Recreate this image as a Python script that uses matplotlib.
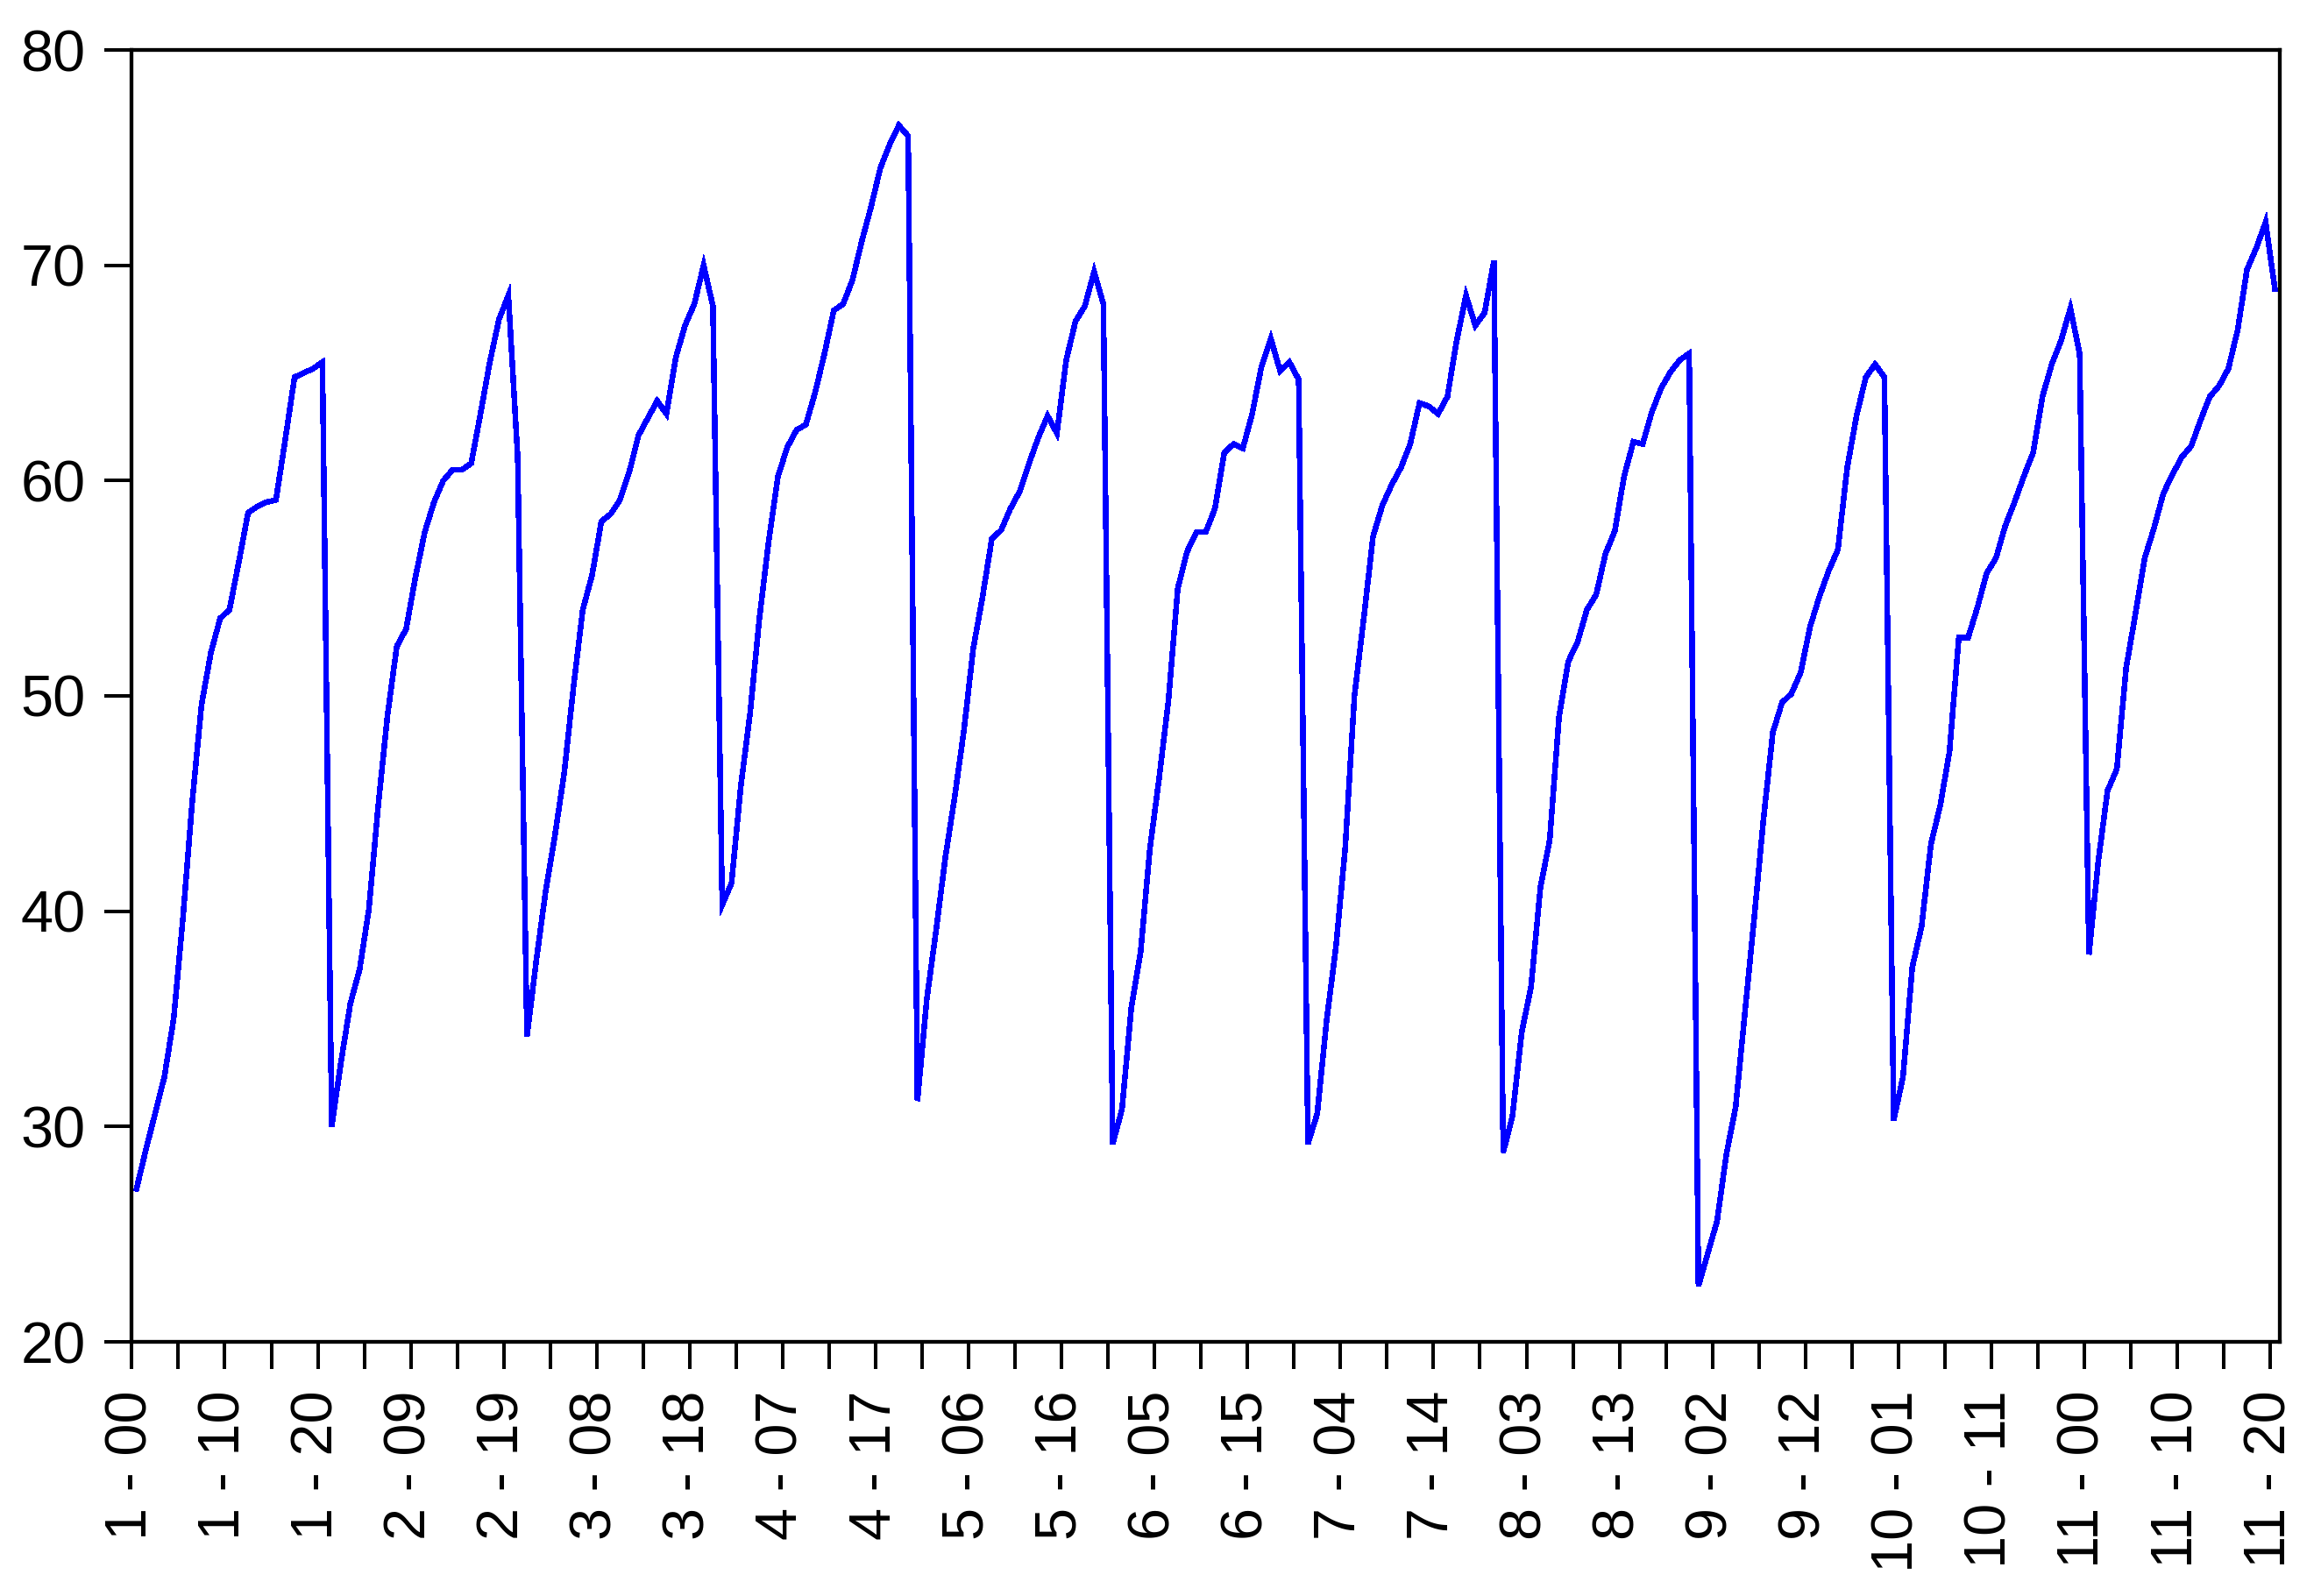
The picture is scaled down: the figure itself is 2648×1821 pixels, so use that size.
import matplotlib
matplotlib.use("Agg")
import matplotlib.pyplot as plt
import numpy as np

plt.rcParams['font.family'] = ['Liberation Sans', 'DejaVu Sans']

# 11 cycles of 21 observations each (labels "cycle - index")
c1 = [27.1, 28.9, 30.6, 32.3, 35.0, 39.7, 45.1, 49.6, 52.0, 53.6, 54.0,
      56.2, 58.5, 58.8, 59.0, 59.1, 61.9, 64.8, 65.0, 65.2, 65.5]
c2 = [30.0, 33.0, 35.7, 37.3, 40.1, 44.9, 49.1, 52.3, 53.1, 55.5, 57.6,
      59.0, 60.0, 60.5, 60.5, 60.8, 63.1, 65.5, 67.5, 68.6, 61.1]
c3 = [34.2, 37.7, 40.9, 43.5, 46.4, 50.4, 54.0, 55.6, 58.1, 58.45, 59.1,
      60.4, 62.1, 62.9, 63.7, 63.1, 65.7, 67.2, 68.2, 70.0, 68.1]
c4 = [40.3, 41.3, 45.8, 49.2, 53.6, 57.2, 60.2, 61.55, 62.35, 62.6, 64.1,
      65.9, 67.9, 68.2, 69.3, 71.1, 72.7, 74.5, 75.6, 76.5, 76.0]
c5 = [31.2, 35.9, 39.1, 42.5, 45.3, 48.4, 52.2, 54.6, 57.3, 57.7, 58.7,
      59.5, 60.8, 62.0, 63.0, 62.2, 65.6, 67.4, 68.1, 69.7, 68.2]
c6 = [29.2, 30.8, 35.5, 38.1, 42.9, 46.2, 49.8, 55.0, 56.7, 57.6, 57.6,
      58.7, 61.3, 61.7, 61.5, 63.1, 65.3, 66.6, 65.1, 65.5, 64.7]
c7 = [29.2, 30.6, 34.9, 38.3, 42.9, 50.0, 53.6, 57.4, 58.85, 59.8, 60.6,
      61.7, 63.6, 63.45, 63.1, 63.9, 66.5, 68.6, 67.2, 67.8, 70.2]
c8 = [28.8, 30.5, 34.4, 36.5, 41.1, 43.3, 49.0, 51.6, 52.5, 54.0, 54.7,
      56.6, 57.65, 60.2, 61.8, 61.7, 63.2, 64.3, 65.05, 65.6, 65.9]
c9 = [22.6, 24.1, 25.6, 28.7, 30.9, 35.3, 39.7, 44.3, 48.3, 49.7, 50.1,
      51.1, 53.2, 54.6, 55.8, 56.8, 60.6, 63.0, 64.8, 65.4, 64.8]
c10 = [30.3, 32.3, 37.4, 39.3, 43.1, 44.9, 47.4, 52.7, 52.7, 54.1, 55.7,
       56.4, 57.9, 59.0, 60.2, 61.3, 63.9, 65.4, 66.5, 68.0, 65.9]
c11 = [38.0, 42.3, 45.6, 46.6, 51.3, 53.8, 56.4, 57.8, 59.4, 60.3, 61.1,
       61.6, 62.8, 63.9, 64.4, 65.2, 67.0, 69.8, 70.8, 72.0, 68.9]

tick_labels = ["1 - 00", "1 - 10", "1 - 20", "2 - 09", "2 - 19", "3 - 08",
               "3 - 18", "4 - 07", "4 - 17", "5 - 06", "5 - 16", "6 - 05",
               "6 - 15", "7 - 04", "7 - 14", "8 - 03", "8 - 13", "9 - 02",
               "9 - 12", "10 - 01", "10 - 11", "11 - 00", "11 - 10", "11 - 20"]
y_ticks = [20, 30, 40, 50, 60, 70, 80]

values = np.array(c1 + c2 + c3 + c4 + c5 + c6 + c7 + c8 + c9 + c10 + c11)
n = len(values)
x = np.arange(n) + 0.5

W, H = 2648, 1821
fig = plt.figure(figsize=(W / 100, H / 100), dpi=100)
left, right, top, bottom = 150.4, 2600.7, 57, 1531
ax = fig.add_axes([left / W, 1 - bottom / H, (right - left) / W, (bottom - top) / H])

ax.plot(x, values, color='#0000FF', linewidth=3.9, solid_joinstyle='miter',
        antialiased=False)

ax.set_xlim(0, n)
ax.set_ylim(20, 80)
ax.set_yticks(y_ticks)
ax.set_yticklabels([str(v) for v in y_ticks])

major = np.arange(0, n, 10)
minor = np.arange(5, n, 10)
ax.set_xticks(major)
ax.set_xticklabels(tick_labels, rotation=90)
ax.set_xticks(minor, minor=True)

for s in ax.spines.values():
    s.set_linewidth(3.1)
    s.set_color('black')

ax.tick_params(axis='both', which='both', direction='out', length=22,
               width=2.9, color='black', labelsize=48)
ax.tick_params(axis='y', pad=16, right=False)
ax.tick_params(axis='x', pad=18, top=False)

fig.savefig("out.png", dpi=100, facecolor='white')
